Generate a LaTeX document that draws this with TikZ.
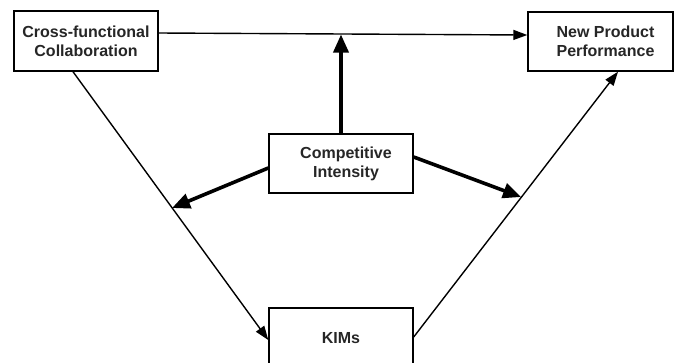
\documentclass[tikz,border=0pt]{standalone}
\usepackage{fontspec}
\setmainfont{Liberation Sans}
\usetikzlibrary{arrows.meta}
\begin{document}
\begin{tikzpicture}[x=1pt,y=-1pt,
  box/.style={draw, line width=1.4pt, rectangle, inner sep=0pt, align=center,
    font=\bfseries\fontsize{16}{19}\selectfont, text=black!85},
  thin/.style={line width=1.4pt, -{Triangle[length=14pt,width=10pt]}},
  thick/.style={line width=3.6pt, -{Triangle[length=18pt,width=15pt]}}]
\clip (0,0) rectangle (675,362);
\fill[white] (0,0) rectangle (675,362);
\node[box, minimum width=144pt, minimum height=60pt] (b1) at (86,41) {Cross-functional\\Collaboration};
\node[box, minimum width=145pt, minimum height=59pt] (b2) at (600.5,41.5) {\hspace*{10pt}New Product\\\hspace*{10pt}Performance};
\node[box, minimum width=144pt, minimum height=59pt] (b3) at (341,163.5) {\hspace*{10pt}Competitive\\\hspace*{10pt}Intensity};
\node[box, minimum width=144pt, minimum height=64pt] (b4) at (341,340) {\raisebox{4pt}{KIMs}};
\coordinate (m) at (341,34.5);
\coordinate (p1) at (172,208);
\coordinate (p2) at (521,197);
\draw[thin] ([yshift=8pt]b1.east) -- ([yshift=6.5pt]b2.west);
\draw[thin] ([xshift=-13pt]b1.south) -- (b4.west);
\draw[thin] ([yshift=3pt]b4.east) -- ([xshift=17.5pt]b2.south);
\draw[thick] (b3.north) -- (m);
\draw[thick] ([yshift=-4.5pt]b3.west) -- (p1);
\draw[thick] ([yshift=6.5pt]b3.east) -- (p2);
\end{tikzpicture}
\end{document}
